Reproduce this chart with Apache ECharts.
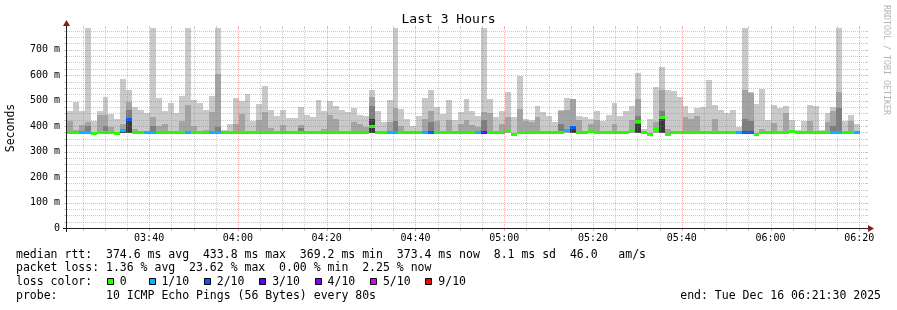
<!DOCTYPE html>
<html><head><meta charset="utf-8">
<script src="https://cdn.jsdelivr.net/npm/echarts@6/dist/echarts.min.js"></script>
<style>html,body{margin:0;padding:0;background:#fff}#c{width:897px;height:310px}</style>
</head><body><div id="c"></div>
<script>
// ---- time frame (minutes since midnight) ----
const startMin = 201.5;   // 03:21:30
const endMin = 381.5;     // 06:21:30
const stepMin = 80 / 60;  // 80 s probe step

// ---- per-step smoke values (ms) ----
const pingMin = [371,371,370,370,366,371,371,371,366,372,372,371,371,370,370,371,371,371,371,371,370,371,371,371,370,370,371,371,371,371,371,371,371,371,371,371,371,371,371,371,371,371,371,371,371,371,371,371,371,371,371,372,371,371,370,370,371,371,371,371,370,371,371,371,370,371,371,371,371,370,370,371,371,371,372,365,371,371,371,371,371,371,371,371,372,372,371,371,371,371,371,371,371,371,371,372,372,371,365,372,372,365,371,371,371,371,371,370,370,371,371,371,371,370,369,369,365,371,371,371,371,371,371,371,371,371,371,371,371,370,370,371,371,370,null];
const pingMax = [461,494,461,784,420,461,514,448,429,585,540,474,465,452,784,510,461,492,452,518,784,502,490,465,518,784,385,407,510,499,526,419,486,557,465,439,463,431,431,474,442,435,502,461,499,480,465,455,471,444,439,540,461,416,502,784,468,428,402,439,510,540,474,448,502,422,455,505,461,439,784,507,435,461,533,435,596,426,422,477,455,439,416,465,510,507,439,435,429,461,419,442,492,439,461,477,608,389,426,552,632,540,536,514,477,452,470,474,582,484,465,452,465,396,784,535,488,545,422,484,471,477,422,384,419,484,477,384,452,474,784,419,444,410,null];
const ping9 = [420,385,405,418,null,444,444,395,null,410,494,390,null,null,435,400,410,null,null,420,482,400,null,385,455,605,null,null,409,449,null,null,425,457,391,null,406,null,null,406,null,null,null,389,442,428,null,null,416,410,395,514,null,null,416,471,400,null,null,null,428,461,420,null,422,null,410,425,405,395,455,452,null,410,435,null,468,420,415,435,null,null,null,460,465,507,425,null,410,422,null,null,410,null,null,422,507,null,null,416,540,390,null,null,435,429,439,null,null,426,null,null,null,null,540,530,null,390,null,413,null,452,null,null,null,419,null,null,416,461,533,null,419,null,null];
const ping8 = [null,null,null,400,null,null,400,null,null,null,465,null,null,null,400,null,null,null,null,null,null,null,null,null,null,395,null,null,null,null,null,null,null,null,null,null,null,null,null,392,null,null,null,null,null,null,null,null,null,null,null,480,null,null,null,420,null,null,null,null,null,416,null,null,null,null,null,null,null,null,422,null,null,null,null,null,null,null,null,null,null,null,null,410,null,400,null,null,null,null,null,null,null,null,null,null,440,null,null,null,461,null,null,null,null,null,null,null,null,null,null,null,null,null,428,420,null,null,null,null,null,null,null,null,null,null,null,null,null,400,471,null,null,null,null];
const ping7 = [null,null,null,null,null,null,null,null,null,382,422,null,null,null,null,null,null,null,null,null,null,null,null,null,null,null,null,null,null,null,null,null,null,null,null,null,null,null,null,null,null,null,null,null,null,null,null,null,null,null,null,428,null,null,null,null,null,null,null,null,null,null,null,null,null,null,null,null,null,null,null,null,null,null,null,null,null,null,null,null,null,null,null,null,null,395,null,null,null,null,null,null,null,null,null,null,410,null,null,null,440,null,null,null,null,null,null,null,null,null,null,null,null,null,null,null,null,null,null,null,null,null,null,null,null,null,null,null,null,null,null,null,null,null,null];
const median = [376,376,374,374,369,376,375,376,369,384,424,376,375,374,374,376,375,376,375,375,374,376,376,375,374,374,376,375,376,375,375,376,376,375,375,375,376,375,375,376,376,375,375,376,375,376,375,375,375,375,376,400,375,375,374,374,375,375,376,375,374,375,375,376,374,376,375,376,375,374,374,375,375,375,382,368,375,376,375,375,375,376,375,376,384,393,376,375,377,376,375,376,376,375,376,383,417,375,368,385,433,368,375,375,376,375,376,374,374,375,376,375,376,374,373,373,368,375,376,376,376,375,377,376,376,375,376,375,375,374,374,376,375,374,null];
const lossCount = [0,0,1,1,0,0,0,0,0,1,2,0,0,1,1,0,0,0,0,0,1,0,0,0,1,1,0,0,0,0,0,0,0,0,0,0,0,0,0,0,0,0,0,0,0,0,0,0,0,0,0,0,0,0,1,1,0,0,0,0,1,2,0,0,0,0,0,0,0,1,3,0,0,0,0,0,0,0,0,0,0,0,0,0,1,2,0,0,0,0,0,0,0,0,0,0,0,0,0,0,0,0,0,0,0,0,0,0,0,0,0,0,0,1,2,2,0,0,0,0,0,0,0,0,0,0,0,0,0,1,1,0,0,1,null];

// ---- axes / ticks ----
const yMax = 785;
const yTickValues = [0,100,200,300,400,500,600,700];
const yTickLabels = ['0','100 m','200 m','300 m','400 m','500 m','600 m','700 m'];
const yGridLines = [25,50,75,100,125,150,175,200,225,250,275,300,325,350,375,400,425,450,475,500,525,550,575,600,625,650,675,700,725,750,775];
const yGridMajor = [100,200,300,400,500,600,700];
const xTickValues = [220,240,260,280,300,320,340,360,380];
const xTickLabels = ['03:40','04:00','04:20','04:40','05:00','05:20','05:40','06:00','06:20'];
const xGridLines = [205,210,215,220,225,230,235,240,245,250,255,260,265,270,275,280,285,290,295,300,305,310,315,320,325,330,335,340,345,350,355,360,365,370,375,380];
const xGridMajor = [220,240,260,280,300,320,340,360,380];

// ---- loss legend ----
const lossLevels = [0,1,2,3,4,5,9];
const lossLabels = ['0','1/10','2/10','3/10','4/10','5/10','9/10'];
const lossColors = ['#26ff00','#00b8ff','#0059ff','#5e00ff','#7e00ff','#dd00ff','#ff0000'];

// ---- texts ----
const titleText = 'Last 3 Hours';
const yName = 'Seconds';
const statLine1 = 'median rtt:  374.6 ms avg  433.8 ms max  369.2 ms min  373.4 ms now  8.1 ms sd  46.0   am/s';
const statLine2 = 'packet loss: 1.36 % avg  23.62 % max  0.00 % min  2.25 % now';
const lossTitle = 'loss color:';
const probeLine = 'probe:       10 ICMP Echo Pings (56 Bytes) every 80s';
const endLine = 'end: Tue Dec 16 06:21:30 2025';
const watermark = 'RRDTOOL / TOBI OETIKER';

const FONT = '"DejaVu Sans Mono", monospace';
const SMOKE = ['#c9c9c9', '#a4a4a4', '#7e7e7e', '#3a3a3a'];
const GRID_COL = 'rgba(143,143,143,0.45)';
const MGRID_COL = 'rgba(222,79,79,0.45)';
const AXIS_COL = '#1f1f1f';
const ARROW_COL = '#801f1f';
const TXT = 11.5;
const CHW = TXT * 0.602; // monospace advance

function lossColor(c) {
  let idx = 0;
  for (let k = 0; k < lossLevels.length; k++) if (c >= lossLevels[k]) idx = k;
  return lossColors[idx];
}

const rows = [];
for (let i = 0; i < median.length; i++) {
  if (median[i] == null) continue;
  const t0 = startMin + i * stepMin;
  rows.push([t0, median[i], t0 + stepMin, pingMin[i], pingMax[i], ping9[i], ping8[i], ping7[i], lossCount[i]]);
}
const gridRows = [];
yGridLines.forEach(v => gridRows.push([startMin, v, yGridMajor.includes(v) ? 1 : 0, 0]));
xGridLines.forEach(v => gridRows.push([v, 0, xGridMajor.includes(v) ? 1 : 0, 1]));

function renderSmoke(params, api) {
  const t0 = api.value(0), t1 = api.value(2);
  const x0 = Math.round(api.coord([t0, 0])[0]);
  const x1 = Math.round(api.coord([t1, 0])[0]);
  const base = api.value(3);
  const yb = Math.round(api.coord([t0, base])[1]);
  const children = [];
  [4, 5, 6, 7].forEach((dim, k) => {
    const top = api.value(dim);
    if (top == null || isNaN(top) || top <= base) return;
    const yt = Math.round(api.coord([t0, Math.min(top, yMax)])[1]);
    children.push({ type: 'rect', shape: { x: x0, y: yt, width: x1 - x0, height: yb - yt }, style: { fill: SMOKE[k] } });
  });
  const ym = api.coord([t0, api.value(1)])[1];
  children.push({ type: 'rect', shape: { x: x0, y: Math.round(ym - 1.5), width: x1 - x0, height: 3 }, style: { fill: lossColor(api.value(8)) } });
  return { type: 'group', children };
}

function renderGrid(params, api) {
  const cs = params.coordSys;
  const col = api.value(2) === 1 ? MGRID_COL : GRID_COL;
  const L = cs.x, R = cs.x + cs.width, T = cs.y, B = cs.y + cs.height;
  const ch = [];
  if (api.value(3) === 0) {
    const y = Math.round(api.coord([api.value(0), api.value(1)])[1]) + 0.5;
    ch.push({ type: 'line', shape: { x1: L - 3, y1: y, x2: L, y2: y }, style: { stroke: col, lineWidth: 1 } });
    ch.push({ type: 'line', shape: { x1: L, y1: y, x2: R, y2: y }, style: { stroke: col, lineWidth: 1, lineDash: [1, 1] } });
    ch.push({ type: 'line', shape: { x1: R, y1: y, x2: R + 2, y2: y }, style: { stroke: col, lineWidth: 1 } });
  } else {
    const x = Math.round(api.coord([api.value(0), 0])[0]) + 0.5;
    ch.push({ type: 'line', shape: { x1: x, y1: B, x2: x, y2: B + 3 }, style: { stroke: col, lineWidth: 1 } });
    ch.push({ type: 'line', shape: { x1: x, y1: T, x2: x, y2: B }, style: { stroke: col, lineWidth: 1, lineDash: [1, 1] } });
    ch.push({ type: 'line', shape: { x1: x, y1: T - 2, x2: x, y2: T }, style: { stroke: col, lineWidth: 1 } });
  }
  return { type: 'group', children: ch };
}

function renderAxes(params, api) {
  const cs = params.coordSys;
  const L = cs.x, R = cs.x + cs.width, T = cs.y, B = cs.y + cs.height;
  const ax = L - 0.5, by = B + 0.5;
  return { type: 'group', children: [
    { type: 'line', shape: { x1: L - 4, y1: by, x2: R + 3, y2: by }, style: { stroke: AXIS_COL, lineWidth: 1 } },
    { type: 'line', shape: { x1: ax, y1: B + 4, x2: ax, y2: T - 4 }, style: { stroke: AXIS_COL, lineWidth: 1 } },
    { type: 'polygon', shape: { points: [[R + 2, by - 3.5], [R + 2, by + 3.5], [R + 8, by]] }, style: { fill: ARROW_COL } },
    { type: 'polygon', shape: { points: [[ax - 3.5, T - 2], [ax + 3.5, T - 2], [ax, T - 8]] }, style: { fill: ARROW_COL } }
  ] };
}

// legend line: title, then (square, label) pairs laid out on the monospace grid
const legendX = 16, legendY = 282;
const legendEls = [
  { type: 'text', x: legendX, y: legendY, style: { text: lossTitle, font: TXT + 'px ' + FONT, fill: '#000', textVerticalAlign: 'middle' } }
];
let col = 13;
lossLabels.forEach((l, i) => {
  const sx = legendX + col * CHW;
  legendEls.push({ type: 'rect', shape: { x: Math.round(sx + 1) + 0.5, y: legendY - 3.5, width: 6, height: 6 },
    style: { fill: lossColors[i], stroke: '#000', lineWidth: 1 } });
  legendEls.push({ type: 'text', x: legendX + (col + 2) * CHW, y: legendY,
    style: { text: l, font: TXT + 'px ' + FONT, fill: '#000', textVerticalAlign: 'middle' } });
  col += 2 + l.length + (l.length === 1 ? 3 : 2);
});

const chart = echarts.init(document.getElementById('c'), null, { renderer: 'canvas', width: 897, height: 310 });
chart.setOption({
  animation: false,
  backgroundColor: '#ffffff',
  title: { text: titleText, left: 'center', top: 8, textStyle: { fontFamily: FONT, fontSize: 13, fontWeight: 'normal', color: '#000' } },
  grid: { left: 67, top: 28, width: 799, height: 200, containLabel: false, outerBoundsMode: 'none' },
  xAxis: {
    type: 'value', min: startMin, max: endMin,
    axisLine: { show: false }, axisTick: { show: false }, splitLine: { show: false },
    axisLabel: { customValues: xTickValues, margin: 5, fontFamily: FONT, fontSize: 10, color: '#000',
      formatter: v => xTickLabels[xTickValues.indexOf(v)] }
  },
  yAxis: {
    type: 'value', min: 0, max: yMax,
    name: yName, nameLocation: 'middle', nameGap: 50, nameRotate: 90,
    nameTextStyle: { fontFamily: FONT, fontSize: TXT, color: '#000' },
    axisLine: { show: false }, axisTick: { show: false }, splitLine: { show: false },
    axisLabel: { customValues: yTickValues, margin: 7, fontFamily: FONT, fontSize: 10, color: '#000',
      formatter: v => yTickLabels[yTickValues.indexOf(v)] }
  },
  series: [
    { type: 'custom', name: 'smoke', data: rows, renderItem: renderSmoke, clip: true, z: 2, silent: true },
    { type: 'custom', name: 'grid', data: gridRows, renderItem: renderGrid, z: 3, silent: true },
    { type: 'custom', name: 'axes', data: [[startMin, 0]], renderItem: renderAxes, z: 4, silent: true }
  ],
  graphic: [
    { type: 'text', x: 16, y: 255, style: { text: statLine1, font: TXT + 'px ' + FONT, fill: '#000', textVerticalAlign: 'middle' } },
    { type: 'text', x: 16, y: 268.5, style: { text: statLine2, font: TXT + 'px ' + FONT, fill: '#000', textVerticalAlign: 'middle' } },
    ...legendEls,
    { type: 'text', x: 16, y: 296, style: { text: probeLine, font: TXT + 'px ' + FONT, fill: '#000', textVerticalAlign: 'middle' } },
    { type: 'text', x: 881, y: 296, style: { text: endLine, font: TXT + 'px ' + FONT, fill: '#000', textAlign: 'right', textVerticalAlign: 'middle' } },
    { type: 'text', x: 886, y: 60, rotation: -Math.PI / 2, style: { text: watermark, font: '8.3px ' + FONT, fill: '#b4b4b4', textAlign: 'center', textVerticalAlign: 'middle' } }
  ]
});
</script>
</body></html>
